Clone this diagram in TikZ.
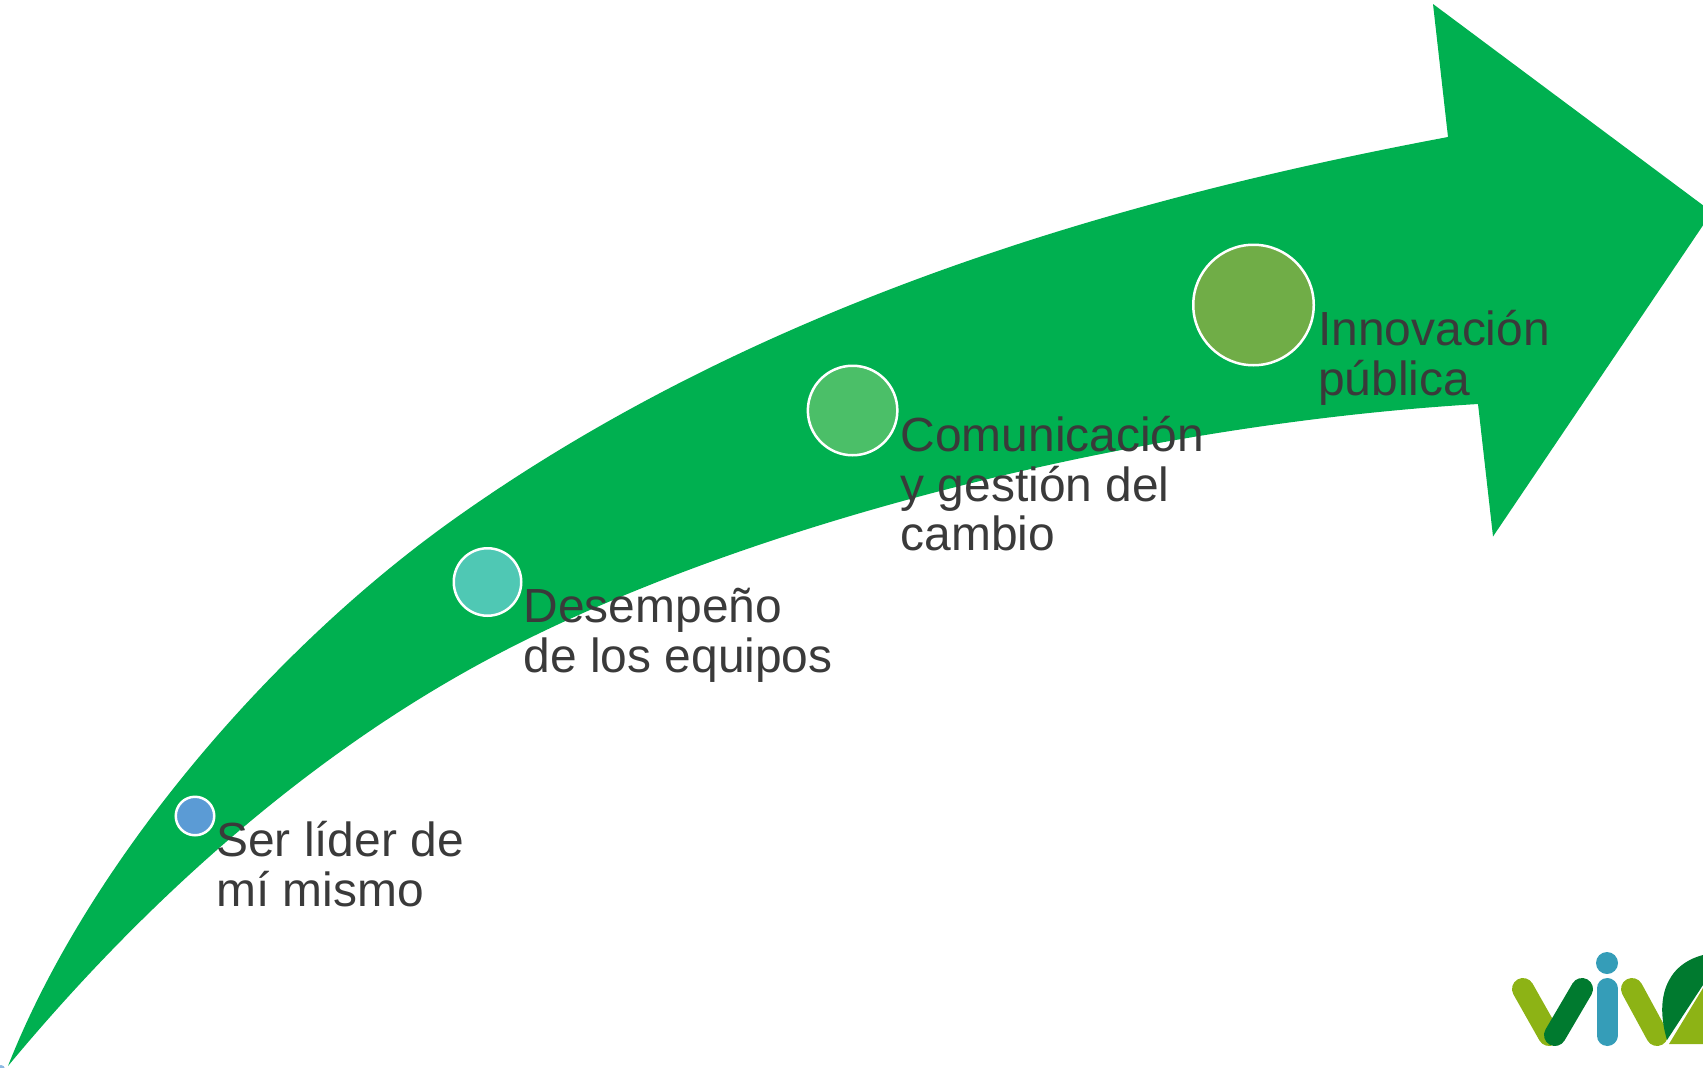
\documentclass[tikz,border=0pt]{standalone}
\usepackage{fontspec}
\setmainfont{Liberation Sans}
\definecolor{arrowgreen}{HTML}{00B050}
\definecolor{dotblue}{HTML}{5B9BD5}
\definecolor{dotteal}{HTML}{4FC8B4}
\definecolor{dotgreen}{HTML}{4BBF68}
\definecolor{dotolive}{HTML}{70AD47}
\definecolor{labelgrey}{HTML}{3A3A3A}
\definecolor{logolight}{HTML}{8DB315}
\definecolor{logodark}{HTML}{007A2F}
\definecolor{logoblue}{HTML}{359DB8}
\tikzset{
  dot/.style={circle,draw=white,line width=2.5pt,inner sep=0pt,minimum size=#1},
  lab/.style={anchor=north west,inner sep=0pt,align=left,text=labelgrey,font=\fontsize{47.9}{49.7}\selectfont},
  stroke/.style={line width=22pt,line cap=round}
}
\begin{document}
\begin{tikzpicture}[x=1pt,y=-1pt]
\path[use as bounding box] (0,0) rectangle (1703,1068);
\clip (0,0) rectangle (1703,1068);
\fill[arrowgreen] (8,1066) .. controls (85,870) and (262,657) .. (450,522)
  .. controls (770,293) and (1150,193) .. (1448,137)
  -- (1433,4) -- (1712,212) -- (1493,536.5) -- (1478,404)
  .. controls (1130,425) and (745,525) .. (500,653)
  .. controls (312,751) and (145,901) .. (8,1066) -- cycle;
\fill[color=dotblue!70] (1,1069) circle (4);
\node[dot=38.5pt,fill=dotblue] (d1) at (195,816) {};
\node[dot=67.5pt,fill=dotteal] (d2) at (487.5,582) {};
\node[dot=89.5pt,fill=dotgreen] (d3) at (852.6,410.5) {};
\node[dot=120.5pt,fill=dotolive] (d4) at (1253.5,305) {};
\node[lab] (t1) at (216,821) {Ser líder de\\mí mismo};
\node[lab] (t2) at (523.5,588) {Desempeño\\de los equipos};
\node[lab] (t3) at (900.5,416) {Comunicación\\y gestión del\\cambio};
\node[lab] (t4) at (1318,310) {Innovación\\pública};
% logo
\draw[stroke,logolight] (1523,989) -- (1549,1035);
\draw[stroke,logodark] (1582,989) -- (1555,1035);
\fill[logoblue] (1607,963) circle (11);
\draw[line width=21pt,line cap=round,logoblue] (1607,988.5) -- (1607,1035.5);
\draw[stroke,logolight] (1632,989) -- (1657,1035);
\fill[logodark] (1667,1040) .. controls (1655,1000) and (1665,965) .. (1703,955) -- (1703,985) -- cycle;
\fill[logolight] (1669,1044) -- (1703,988) -- (1703,1044) -- cycle;
\end{tikzpicture}
\end{document}
